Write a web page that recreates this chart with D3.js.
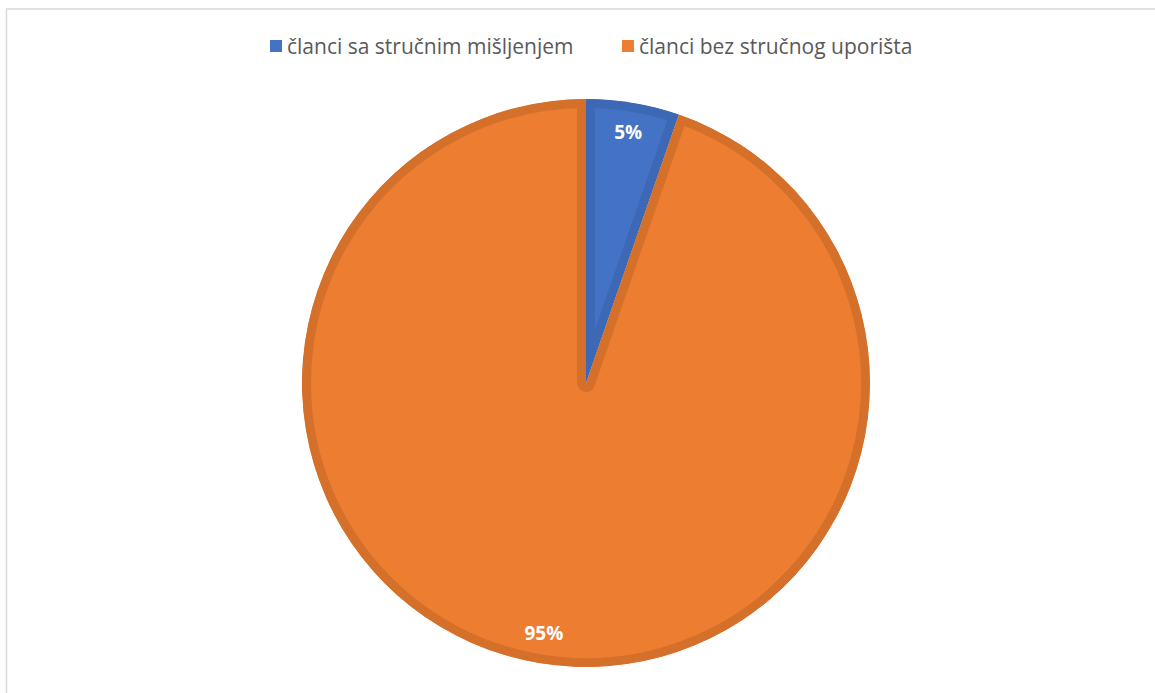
<!DOCTYPE html>
<html>
<head>
<meta charset="utf-8">
<script src="https://cdn.jsdelivr.net/npm/d3@7"></script>
<style>
  body { margin: 0; background: #fff; }
</style>
</head>
<body>
<div id="chart"></div>
<script>
const categories = ["članci sa stručnim mišljenjem", "članci bez stručnog uporišta"];
const values = [5.3, 94.7];
const colors = ["#4472C4", "#ED7D31"];
const edgeColors = ["#3D68B6", "#D5702B"];

const width = 1155;
const height = 693;
const svg = d3.select("#chart").append("svg")
  .attr("width", width)
  .attr("height", height);

// chart frame (runs off the right and bottom)
svg.append("rect")
  .attr("x", 6.5)
  .attr("y", 9)
  .attr("width", 1200)
  .attr("height", 800)
  .attr("fill", "none")
  .attr("stroke", "#d9d9d9")
  .attr("stroke-width", 1.5);

const cx = 586, cy = 383, r = 284;

const pie = d3.pie().sort(null).value(d => d.value);
const data = pie(categories.map((c, i) => ({ name: c, value: values[i], i })));
const arc = d3.arc().innerRadius(0).outerRadius(r);
const labelArc = d3.arc().innerRadius(r * 0.895).outerRadius(r * 0.895);

const g = svg.append("g").attr("transform", `translate(${cx},${cy})`);
const defs = svg.append("defs");

data.forEach((d, i) => {
  defs.append("clipPath")
    .attr("id", "clip" + i)
    .append("path")
    .attr("d", arc(d));
});

g.selectAll("path.slice")
  .data(data)
  .enter()
  .append("path")
  .attr("class", "slice")
  .attr("d", arc)
  .attr("fill", d => colors[d.data.i])
  .attr("stroke", d => edgeColors[d.data.i])
  .attr("stroke-width", 18)
  .attr("stroke-linejoin", "round")
  .attr("clip-path", (d, i) => `url(#clip${i})`);

g.selectAll("text.lbl")
  .data(data)
  .enter()
  .append("text")
  .attr("class", "lbl")
  .attr("transform", d => `translate(${labelArc.centroid(d)})`)
  .attr("text-anchor", "middle")
  .attr("dy", "0.35em")
  .attr("fill", "#fff")
  .attr("font-family", "'Open Sans', 'Noto Sans', sans-serif")
  .attr("font-weight", "bold")
  .attr("font-size", "19px")
  .text(d => Math.round(d.data.value) + "%");

// legend
const legendX = [270, 622];
const legend = svg.append("g");
categories.forEach((c, i) => {
  legend.append("rect")
    .attr("x", legendX[i])
    .attr("y", 40)
    .attr("width", 12)
    .attr("height", 12)
    .attr("fill", colors[i]);
  legend.append("text")
    .attr("x", legendX[i] + 17)
    .attr("y", 54)
    .attr("fill", "#595959")
    .attr("font-family", "'Open Sans', 'Noto Sans', sans-serif")
    .attr("font-size", "21px")
    .text(c);
});
</script>
</body>
</html>
